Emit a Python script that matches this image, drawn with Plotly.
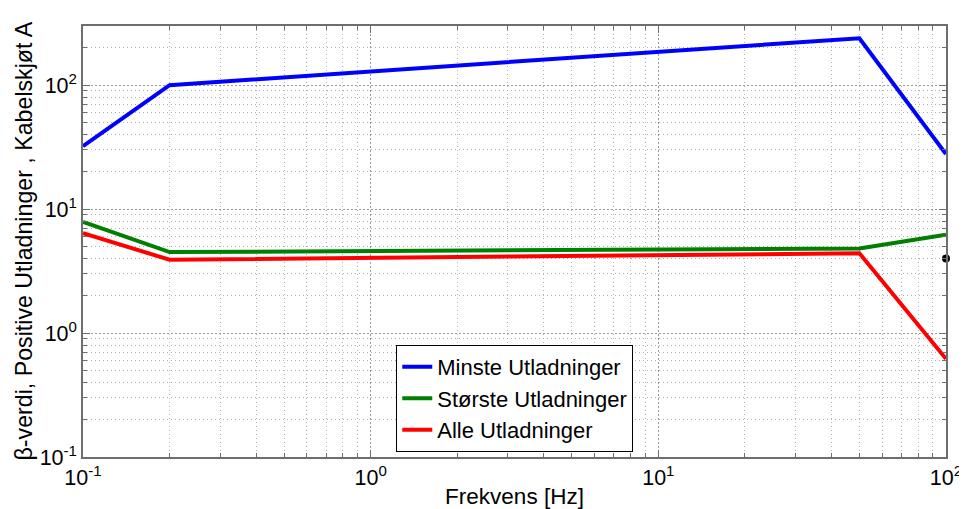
import plotly.graph_objects as go

freq = [0.1, 0.2, 50, 100]
minste = [32.2, 100, 239, 27.8]
storste = [7.9, 4.5, 4.8, 6.2]
alle = [6.4, 3.9, 4.4, 0.62]
dot_x = [100]
dot_y = [4.0]

tick_vals = [0.1, 1, 10, 100]
tick_text = ["10<sup>-1</sup>", "10<sup>0</sup>", "10<sup>1</sup>", "10<sup>2</sup>"]

FONT = "Liberation Sans, Arial, sans-serif"

fig = go.Figure()
fig.add_trace(go.Scatter(x=freq, y=minste, mode="lines", name="Minste Utladninger",
                         line=dict(color="#0000ff", width=4)))
fig.add_trace(go.Scatter(x=freq, y=storste, mode="lines", name="Største Utladninger",
                         line=dict(color="#008000", width=4)))
fig.add_trace(go.Scatter(x=freq, y=alle, mode="lines", name="Alle Utladninger",
                         line=dict(color="#ff0000", width=4)))
fig.add_trace(go.Scatter(x=dot_x, y=dot_y, mode="markers", showlegend=False,
                         marker=dict(color="black", size=8), cliponaxis=False))

axis_common = dict(
    type="log",
    tickvals=tick_vals,
    ticktext=tick_text,
    automargin=False,
    showline=True,
    mirror="ticks",
    linecolor="#6e6e6e",
    linewidth=1.5,
    ticks="inside",
    ticklen=7,
    tickcolor="#6e6e6e",
    showgrid=True,
    gridcolor="#9a9a9a",
    griddash="2px,2px",
    gridwidth=1,
    zeroline=False,
    tickfont=dict(size=21.5, color="black", family=FONT),
    minor=dict(ticks="inside", ticklen=4, tickcolor="#6e6e6e", showgrid=True,
               gridcolor="#b0b0b0", griddash="1px,3px", gridwidth=1, dtick="D1"),
)

fig.update_xaxes(axis_common, range=[-1, 2],
                 title=dict(text="Frekvens [Hz]", font=dict(size=22.5, family=FONT, color="black"),
                            standoff=7))
fig.update_yaxes(axis_common, range=[-1, 2.477])

fig.add_annotation(
    text="β-verdi, Positive Utladninger , Kabelskjøt A",
    xref="paper", yref="paper", x=-0.0695, y=0.5,
    xanchor="center", yanchor="middle", textangle=-90, showarrow=False,
    font=dict(size=23.2, family=FONT, color="black"),
)

# the page body keeps an 8px margin, so the figure is sized and offset for it
fig.update_layout(
    width=959,
    height=501,
    margin=dict(l=75, r=21, t=18, b=52),
    paper_bgcolor="white",
    plot_bgcolor="white",
    font=dict(family=FONT, color="black"),
    showlegend=True,
    legend=dict(
        x=0.363, y=0.012, xanchor="left", yanchor="bottom",
        bgcolor="white", bordercolor="black", borderwidth=1,
        font=dict(size=22, family=FONT, color="black"),
        tracegroupgap=0, itemwidth=30,
    ),
)

fig.write_html("out.html")
